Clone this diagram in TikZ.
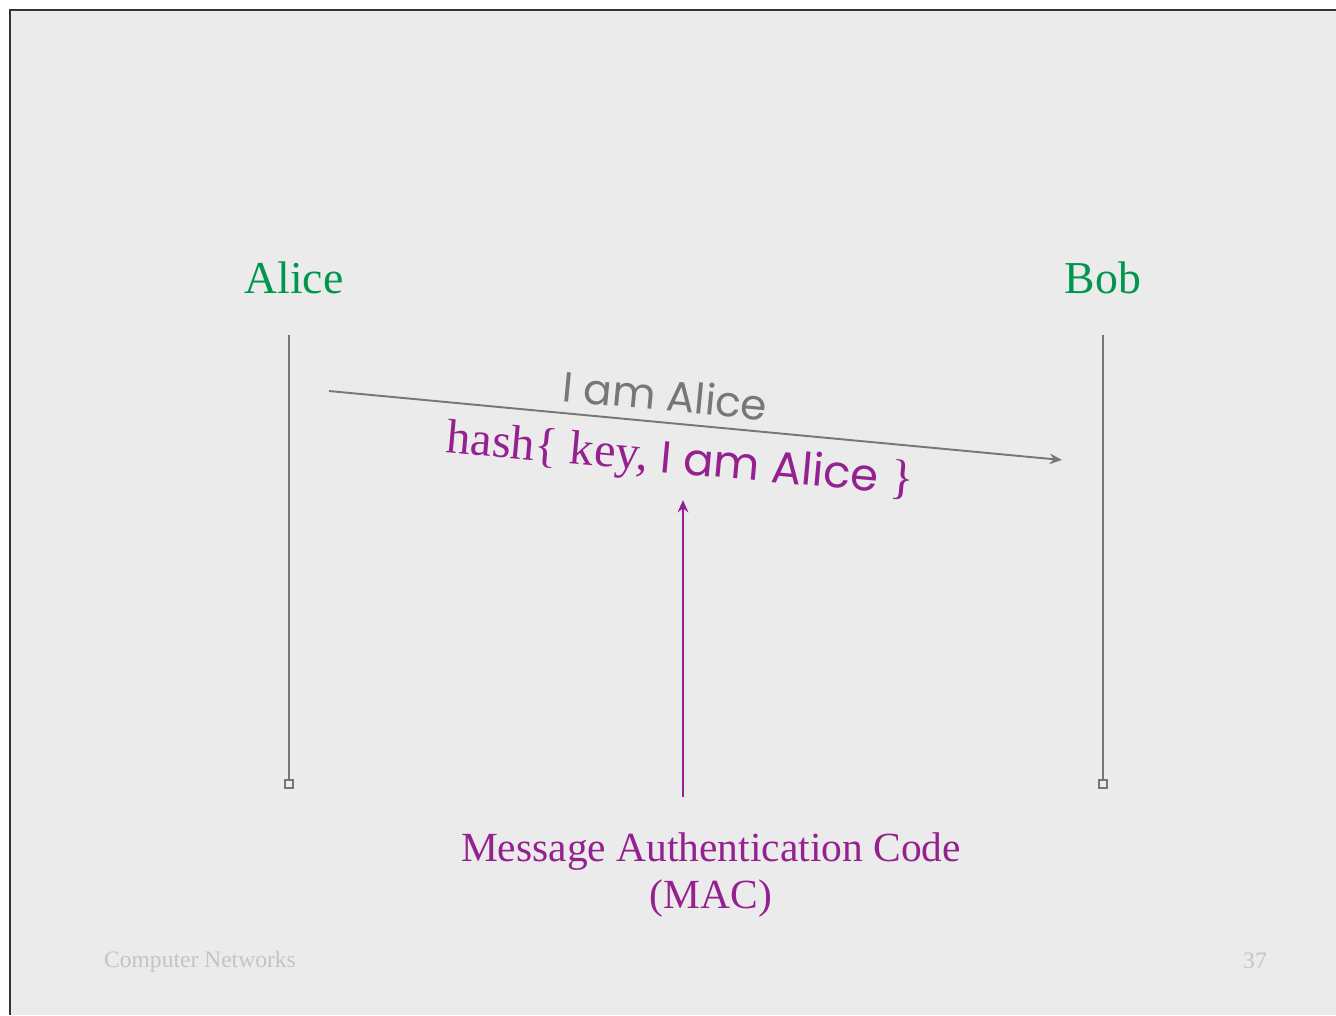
\documentclass[tikz,border=0pt]{standalone}
\usepackage{fontspec}
\setmainfont{Liberation Serif}
\newfontfamily\comicfont{Poppins}
\usetikzlibrary{arrows.meta, positioning}
\definecolor{slidebg}{HTML}{EBEBEB}
\definecolor{slidegreen}{HTML}{00964F}
\definecolor{slidepurple}{HTML}{95208F}
\definecolor{slidegray}{HTML}{777777}
\definecolor{footgray}{HTML}{C4C4C4}

\begin{document}
\begin{tikzpicture}[
  x=0.02cm, y=-0.02cm,
  party/.style={font=\fontsize{26}{30}\selectfont, text=slidegreen, inner sep=0pt},
  lifeline/.style={draw=slidegray, line width=1.2pt},
  endbox/.style={rectangle, draw=slidegray, line width=1.1pt, minimum size=0.15cm, inner sep=0pt},
  msg/.style={draw=slidegray, line width=1.1pt, -{Stealth[length=7pt, width=6pt]}},
  footer/.style={font=\fontsize{13.4}{16}\selectfont, text=footgray, inner sep=0pt},
]
\useasboundingbox (0,0) rectangle (1336,1015);
% Slide
\fill[slidebg] (10,10) rectangle (1336,1015);
\draw[black!80, line width=1pt] (1336,10) -- (10,10) -- (10,1015);

% Parties
\node[party] (alice) at (294,278) {Alice};
\node[party] (bob) at (1103,278) {Bob};

% Lifelines
\coordinate (aliceTop) at (289,335);
\coordinate (bobTop) at (1103,335);
\node[endbox] (aliceEnd) at (289,784) {};
\node[endbox] (bobEnd) at (1103,784) {};
\draw[lifeline] (aliceTop) -- (aliceEnd.north);
\draw[lifeline] (bobTop) -- (bobEnd.north);

% Message
\coordinate (msgStart) at (329,391);
\coordinate (msgEnd) at (1062,460);
\draw[msg] (msgStart) -- (msgEnd);
\node[font=\comicfont\fontsize{24}{28}\selectfont, text=slidegray, rotate=-5.4, inner sep=0pt] (claim) at (665,395) {I am Alice};
\node[text=slidepurple, rotate=-5.2, inner sep=0pt] (hashmsg) at (680,462)
  {\fontsize{27.5}{30}\selectfont hash\{ key, {\comicfont\fontsize{25.5}{28}\selectfont I am Alice} \}};

% MAC
\node[font=\fontsize{23.6}{27}\selectfont, text=slidepurple, align=center, inner sep=0pt] (mac) at (711,875) {Message Authentication Code\\(MAC)};
\coordinate (macFoot) at (683,797);
\coordinate (macTip) at (683,500);
\draw[slidepurple, line width=1.2pt, -{Stealth[length=7pt, width=6pt]}] (macFoot) -- (macTip);

% Footer
\node[footer] (course) at (200,962) {Computer Networks};
\node[footer] (page) at (1255,961) {37};

\end{tikzpicture}
\end{document}
